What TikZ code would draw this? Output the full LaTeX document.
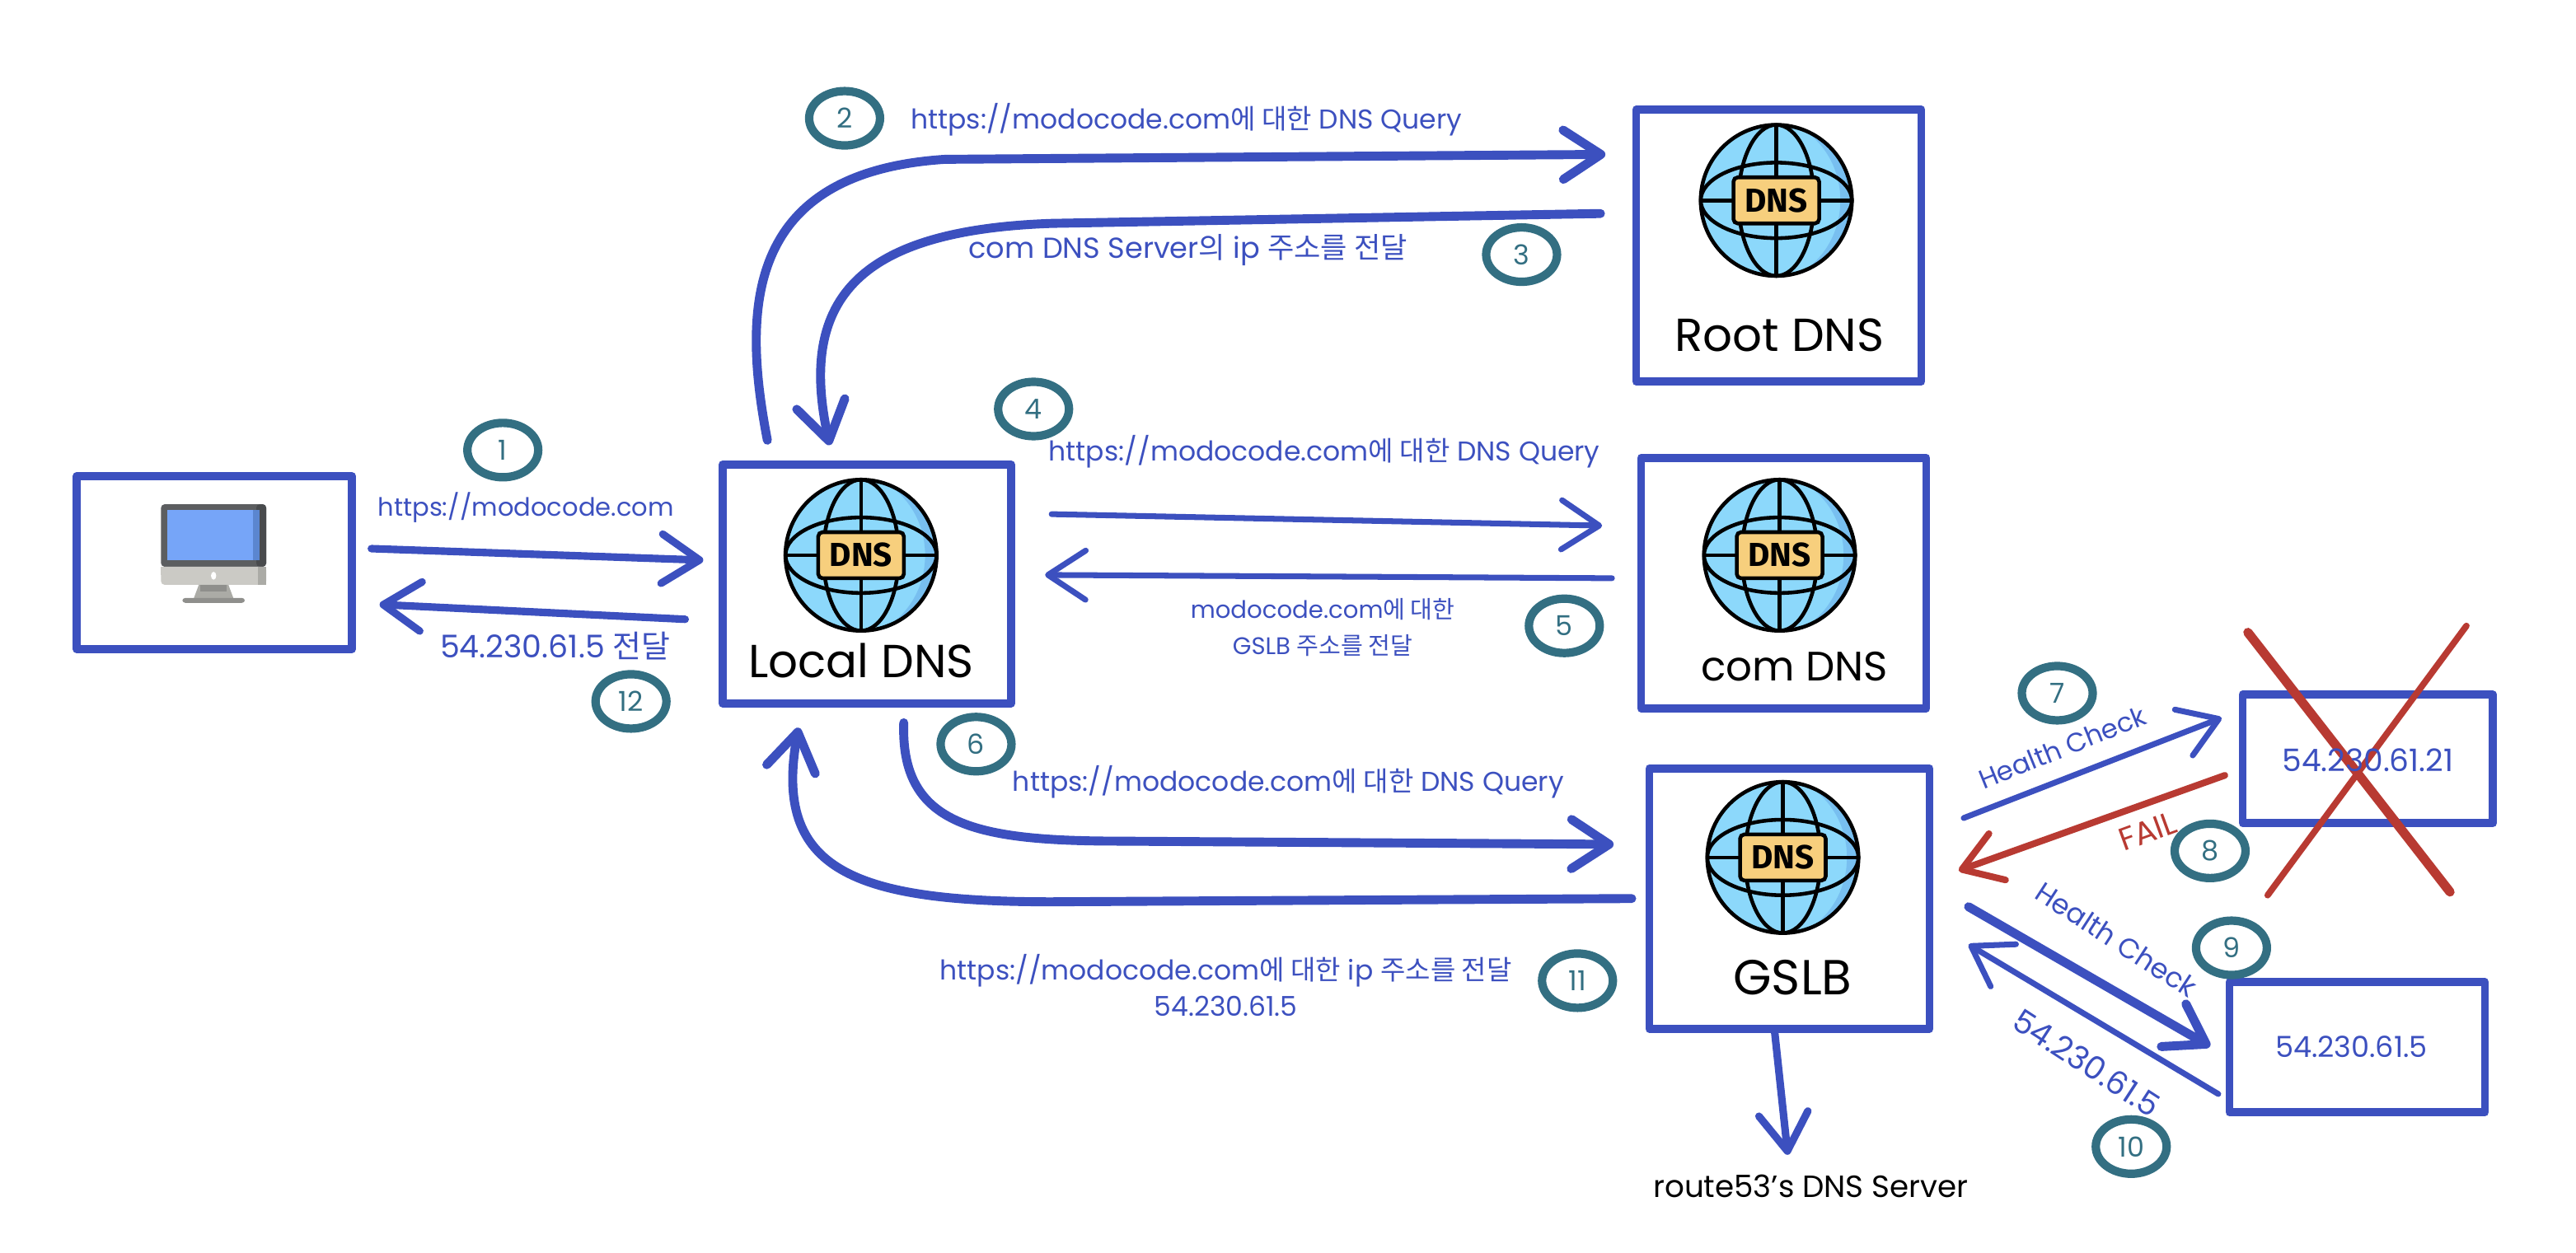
\documentclass[tikz,border=0pt]{standalone}
\usepackage{fontspec}
\setmainfont{Poppins}
\newfontfamily\kr{Noto Sans CJK KR}
\newfontfamily\dnsf{Fira Sans}
\usetikzlibrary{arrows.meta,shapes.geometric,calc}
\definecolor{skblue}{HTML}{3C50BF}
\definecolor{skred}{HTML}{B83A32}
\definecolor{skteal}{HTML}{336F82}
\definecolor{globeblue}{HTML}{8CD8FB}
\definecolor{globedark}{HTML}{78BFF0}
\definecolor{dnsgold}{HTML}{F7CF7D}
\definecolor{screenb}{HTML}{76A5F8}
\definecolor{screend}{HTML}{5B86D0}
\definecolor{bezel}{HTML}{5C5E60}
\definecolor{bezeld}{HTML}{494B4D}
\definecolor{chin}{HTML}{CBCAC5}
\definecolor{chind}{HTML}{ABABA6}
\definecolor{standd}{HTML}{8F8F8C}
\newcommand\fs[1]{\fontsize{#1pt}{12.5pt}\selectfont}
\tikzset{
  box/.style={draw=skblue,line width=2.8pt,line join=round,inner sep=0pt,rectangle},
  conn/.style={draw=skblue,line width=2.6pt,line cap=round,line join=round,
    -{Straight Barb[length=13pt,width=17pt,round]}},
  boldconn/.style={conn,line width=3.1pt},
  thinconn/.style={conn,line width=2pt},
  redconn/.style={conn,draw=skred,line width=2.3pt},
  cross/.style={draw=skred,line cap=round,line width=2.2pt},
  stepc/.style={ellipse,draw=skteal,line width=2.9pt,text=skteal,inner sep=0pt,
    minimum width=.86cm,minimum height=.66cm,font=\fs{9.5}},
  lab/.style={text=skblue,font=\fs{8.7},align=center,inner sep=0pt},
  big/.style={text=black,inner sep=0pt},
  gline/.style={draw=black,line width=1.3pt},
  globe/.pic={
    \fill[fill=globeblue] (0,0) circle[radius=46];
    \begin{scope}
      \clip (0,0) circle[radius=46];
      \fill[fill=globedark,even odd rule] (0,0) circle[radius=46]
        (-7,0) ellipse[x radius=46,y radius=50];
    \end{scope}
    \draw[gline] (0,0) ellipse[x radius=23,y radius=46];
    \draw[gline] (0,0) ellipse[x radius=46,y radius=23];
    \draw[gline] (0,-46) -- (0,46);
    \draw[gline] (-46,0) -- (46,0);
    \draw[gline] (0,0) circle[radius=46];
    \node[draw=black,line width=1.3pt,fill=dnsgold,rounded corners=1.5pt,
      minimum width=1.04cm,minimum height=.56cm,inner sep=0pt,
      font=\dnsf\bfseries\fontsize{11.5pt}{12pt}\selectfont] (-lab) at (0,0) {DNS};
  }
}
\begin{document}
\begin{tikzpicture}[x=0.01994cm,y=-0.01994cm]
\useasboundingbox (0,0) rectangle (1567.7,762.3);
% boxes
\node[box,minimum width=3.34cm,minimum height=2.1cm] (pc) at (130.5,342.5) {};
\node[box,minimum width=3.5cm,minimum height=2.9cm] (local) at (527.5,355.5) {};
\node[box,minimum width=3.46cm,minimum height=3.3cm] (root) at (1082.5,149.5) {};
\node[box,minimum width=3.46cm,minimum height=3.04cm] (com) at (1085.5,355) {};
\node[box,minimum width=3.4cm,minimum height=3.16cm] (gslb) at (1089,547) {};
\node[box,minimum width=3.04cm,minimum height=1.56cm] (ipa) at (1441,462) {};
\node[box,minimum width=3.1cm,minimum height=1.58cm] (ipb) at (1434.5,637.5) {};
% monitor
\fill[fill=bezel,rounded corners=1.2pt] (98,307) rectangle (162,345);
\fill[fill=bezeld,rounded corners=1.2pt] (156,307) rectangle (162,345);
\fill[fill=chin,rounded corners=1.2pt] (98,345) rectangle (162,356);
\fill[fill=chin] (98,345) rectangle (162,350);
\fill[fill=chind] (157,345) rectangle (162,356);
\fill[fill=chind] (121,356) -- (139,356) -- (142,364) -- (118,364) -- cycle;
\fill[fill=standd] (122,356) rectangle (138,360);
\fill[fill=standd,rounded corners=1pt] (111,364) rectangle (149,367);
\fill[fill=white] (130,350.5) ellipse[x radius=1.6,y radius=2.4];
\fill[fill=screenb] (102,310.5) rectangle (158,341);
\fill[fill=screend] (154,310.5) rectangle (158,341);
% globes
\pic (g1) at (524,338) {globe};
\pic (g2) at (1081,122) {globe};
\pic (g3) at (1083,338) {globe};
\pic (g4) at (1085,522) {globe};
% big labels
\node[big,font=\fs{16}] (tlocal) at (524,402) {Local DNS};
\node[big,font=\fs{16}] (troot) at (1083,204) {Root DNS};
\node[big,font=\fs{14.2}] (tcom) at (1092,406) {com DNS};
\node[big,font=\fs{17}] (tgslb) at (1091,595) {GSLB};
% endpoints
\foreach \n/\x/\y in {a/226/334,b/428/341,c/417/377,d/231/368,e/467/268,f/977/94,g/974/130,h/505/271,
 i/640/313,j/975/320,k/981/352,l/636/350,m/550/440,n/982/514,o/993/547,p/486/443,q/1080/628,r/1088/703,
 s/1195/498,t/1352/437,u/1354/472,v/1192/530,w/1198/552,x/1345/637,y/1350/666,z/1198/575,
 xa/1368/385,xb/1491/543,xc/1501/381,xd/1380/545}
 {\coordinate (\n) at (\x,\y);}
% connectors
\draw[conn] (a) -- (b);
\draw[conn] (c) -- (d);
\draw[boldconn] (e) .. controls (452,190) and (452,105) .. (575,97) -- (f);
\draw[boldconn] (g) -- (640,136) .. controls (525,140) and (485,180) .. (h);
\draw[thinconn] (i) -- (j);
\draw[thinconn] (k) -- (l);
\draw[boldconn] (m) .. controls (548,500) and (590,511) .. (670,512) -- (n);
\draw[boldconn] (o) -- (640,549) .. controls (520,549) and (470,530) .. (p);
\draw[conn] (q) -- (r);
\draw[thinconn] (s) -- (t);
\draw[redconn] (u) -- (v);
\draw[boldconn] (w) -- (x);
\draw[thinconn] (y) -- (z);
\draw[cross,line width=3.2pt] (xa) -- (xb);
\draw[cross] (xc) -- (xd);
% steps
\foreach \n/\x/\y in {1/306/274,2/514/72,3/926/155,4/629/249,5/952/381,6/594/453,7/1252/422,8/1345/518,9/1358/577,10/1297/698,11/960/597,12/384/427}
 {\node[stepc] (s\n) at (\x,\y) {\n};}
% labels
\node[lab] (t1) at (320,309) {https://modocode.com};
\node[lab,font=\fs{10.8}] (t12) at (338,393) {54.230.61.5 {\kr 전달}};
\node[lab,font=\fs{9.4}] (t2) at (722,73) {https://modocode.com{\kr 에 대한} DNS Query};
\node[lab,font=\fs{10}] (t3) at (723,152) {com DNS Server{\kr 의} ip {\kr 주소를 전달}};
\node[lab,font=\fs{9.4}] (t4) at (806,275) {https://modocode.com{\kr 에 대한} DNS Query};
\node[lab,font=\fs{8.3}] (t5) at (805,382) {modocode.com{\kr 에 대한}\\GSLB {\kr 주소를 전달}};
\node[lab,font=\fs{9.4}] (t6) at (784,476) {https://modocode.com{\kr 에 대한} DNS Query};
\node[lab,font=\fs{9.4}] (t11) at (746,600) {https://modocode.com{\kr 에 대한} ip {\kr 주소를 전달}\\54.230.61.5};
\node[lab,text=black,font=\fs{10.6}] (t13) at (1102,722) {route53's DNS Server};
\node[lab,font=\fs{10.7}] (ta) at (1441,463) {54.230.61.21};
\node[lab,font=\fs{10}] (tb) at (1431,637) {54.230.61.5};
\node[lab,rotate=22,font=\fs{9.2}] (h1) at (1255,455) {Health Check};
\node[lab,rotate=20,text=skred,font=\fs{11}] (fail) at (1307,506) {FAIL};
\node[lab,rotate=-33,font=\fs{9.6}] (h2) at (1288,572) {Health Check};
\node[lab,rotate=-33,font=\fs{11}] (t10) at (1270,647) {54.230.61.5};
\end{tikzpicture}
\end{document}
